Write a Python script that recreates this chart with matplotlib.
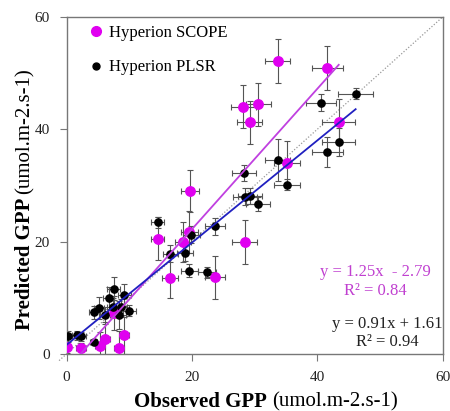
import numpy as np
import matplotlib
matplotlib.use("Agg")
import matplotlib.pyplot as plt
from matplotlib.lines import Line2D

plt.rcParams['font.family'] = ['Liberation Serif', 'DejaVu Serif']

# Hyperion SCOPE (magenta)
scope_obs = [0.1, 2.3, 5.3, 6.1, 8.4, 9.2, 7.6, 14.5, 16.5, 18.6, 19.6, 19.7,
             23.6, 28.4, 28.2, 29.2, 30.6, 33.7, 35.2, 41.6, 43.4]
scope_pred = [1.2, 1.0, 1.4, 2.6, 1.1, 3.3, 7.3, 20.5, 13.5, 19.9, 21.7, 29.0,
              13.6, 19.9, 44.0, 41.2, 44.4, 52.1, 33.9, 50.9, 41.3]
scope_xerr = [0.6, 0.8, 0.8, 0.8, 0.8, 0.8, 1.0, 1.0, 1.3, 1.3, 1.4, 1.4,
              1.6, 2.0, 2.0, 2.0, 2.0, 2.0, 2.1, 2.5, 2.6]
scope_yerr = [1.0, 1.0, 2.5, 3.0, 3.0, 3.3, 3.0, 3.8, 3.5, 3.5, 3.7, 3.7,
              3.9, 3.9, 3.8, 3.9, 3.8, 3.9, 4.0, 3.9, 4.0]

# Hyperion PLSR (black)
plsr_obs = [0.3, 1.7, 2.3, 4.3, 4.4, 5.2, 6.1, 6.7, 7.4, 7.5, 8.4, 8.7, 9.2,
            10.0, 14.5, 16.5, 18.9, 19.9, 19.6, 22.4, 23.6, 28.4, 29.2, 30.5,
            28.3, 33.7, 35.2, 40.6, 41.6, 43.4, 46.1]
plsr_pred = [3.1, 3.3, 3.1, 2.1, 7.4, 8.2, 6.9, 9.9, 8.4, 11.6, 6.9, 8.3, 10.5,
             7.7, 23.4, 17.8, 18.0, 21.2, 14.8, 14.5, 22.7, 28.0, 28.1, 26.7,
             32.2, 34.5, 30.1, 44.7, 35.9, 37.8, 46.3]
plsr_xerr = [0.5, 0.8, 0.8, 0.6, 0.8, 0.8, 0.8, 0.9, 1.0, 1.0, 1.0, 1.0, 1.0,
             1.0, 1.0, 1.2, 1.3, 1.3, 1.3, 1.5, 1.6, 1.9, 1.9, 1.9, 1.9, 2.0,
             2.1, 2.4, 2.5, 2.6, 2.8]
plsr_yerr = [1.0, 0.8, 0.8, 0.6, 1.2, 2.0, 1.5, 2.0, 1.5, 2.0, 2.5, 1.5, 2.0,
             1.0, 1.0, 1.5, 1.5, 1.5, 1.2, 1.0, 1.5, 1.5, 1.5, 1.2, 1.5, 3.8,
             1.0, 1.5, 2.7, 2.5, 1.0]

# regression fits as printed on the chart
scope_fit = (1.25, -2.79)
plsr_fit = (0.91, 1.61)
scope_fit_range = [2.2, 43.4]
plsr_fit_range = [0.0, 46.1]

MAGENTA = '#e000f0'
MAG_LINE = '#c040e0'
BLUE = '#2020c0'
ERR = '#555555'

fig = plt.figure(figsize=(4.5, 4.11), dpi=100)
ax = fig.add_axes([0.148, 0.139, 0.836, 0.82])

# 1:1 line, running a little past the origin like the original
ax.plot([-1.2, 60], [-1.2, 60], linestyle=(0, (1, 1.5)), color='#999999',
        linewidth=0.9, zorder=1, clip_on=False)

ax.errorbar(plsr_obs, plsr_pred, xerr=plsr_xerr, yerr=plsr_yerr, fmt='none',
            ecolor=ERR, elinewidth=0.8, capsize=2.5, capthick=0.8, zorder=2)
ax.errorbar(scope_obs, scope_pred, xerr=scope_xerr, yerr=scope_yerr, fmt='none',
            ecolor=ERR, elinewidth=0.8, capsize=2.5, capthick=0.8, zorder=2)

ax.plot(plsr_obs, plsr_pred, 'o', color='black', markersize=5.2, zorder=4)
ax.plot(scope_obs, scope_pred, 'o', color=MAGENTA, markersize=6.8, zorder=3)

xs = np.array(scope_fit_range)
ax.plot(xs, scope_fit[0] * xs + scope_fit[1], color=MAG_LINE, linewidth=1.3, zorder=5)
xp = np.array(plsr_fit_range)
ax.plot(xp, plsr_fit[0] * xp + plsr_fit[1], color=BLUE, linewidth=1.3, zorder=5)

ax.set_xlim(0, 60)
ax.set_ylim(0, 60)
ax.set_xticks([0, 20, 40, 60])
ax.set_yticks([0, 20, 40, 60])
ax.tick_params(direction='out', length=5, width=0.8, color='#777777',
               labelsize=11, pad=7, labelcolor='#222222')
for s in ax.spines.values():
    s.set_color('#777777')
    s.set_linewidth(1.0)

ax.text(49.3, 14.6, 'y = 1.25x  - 2.79', color='#c040d0', fontsize=12,
        ha='center', va='center')
ax.text(49.3, 11.2, 'R² = 0.84', color='#c040d0', fontsize=12,
        ha='center', va='center')
ax.text(51.2, 5.3, 'y = 0.91x + 1.61', color='#222222', fontsize=12,
        ha='center', va='center')
ax.text(51.2, 2.1, 'R² = 0.94', color='#222222', fontsize=12,
        ha='center', va='center')

handles = [Line2D([], [], marker='o', linestyle='none', color=MAGENTA, markersize=7),
           Line2D([], [], marker='o', linestyle='none', color='black', markersize=5)]
ax.legend(handles, ['Hyperion SCOPE', 'Hyperion PLSR'], loc='upper left',
          frameon=False, fontsize=12, handlelength=1.0, handletextpad=0.3,
          labelspacing=1.1, borderaxespad=0.3, bbox_to_anchor=(0.025, 1.01))

# axis titles: bold name + regular units
fig.text(267 / 450, 1 - 402 / 411, 'Observed GPP', fontsize=15, fontweight='bold',
         ha='right', va='center')
fig.text(272 / 450, 1 - 402 / 411, '(umol.m-2.s-1)', fontsize=15,
         ha='left', va='center')
fig.text(25 / 450, 1 - 330 / 411, 'Predicted GPP', fontsize=15, fontweight='bold',
         rotation=90, ha='center', va='bottom')
fig.text(25 / 450, 1 - 194 / 411, '(umol.m-2.s-1)', fontsize=15,
         rotation=90, ha='center', va='bottom')

fig.savefig('out.png', dpi=100)
